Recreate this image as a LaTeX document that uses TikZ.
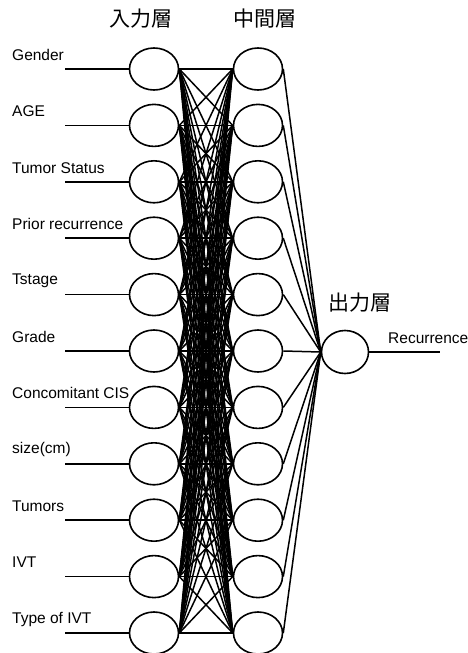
\documentclass[tikz,border=0pt]{standalone}
\usepackage{fontspec}
\setmainfont{Liberation Sans}
\newfontfamily\jpfont{Noto Sans CJK JP}
\usetikzlibrary{shapes.geometric}
\tikzset{
  unit/.style = {ellipse, draw=black, line width=1.6pt, minimum width=49pt, minimum height=42pt, inner sep=0pt},
  feature/.style = {anchor=west, inner sep=0pt, font=\fontsize{15.5}{18}\selectfont},
  layer/.style = {inner sep=0pt, font=\jpfont\fontsize{21}{24}\selectfont},
  link/.style = {line width=1.5pt}
}

\begin{document}
\begin{tikzpicture}[x=1pt, y=-1pt]
\useasboundingbox (0,0) rectangle (468,653);

% layer titles
\node[layer] (in-title) at (141,19) {入力層};
\node[layer] (hid-title) at (265,19) {中間層};
\node[layer] (out-title) at (360,303) {出力層};

% input and hidden layers
\foreach \lab [count=\i] in {Gender, AGE, Tumor Status, Prior recurrence, Tstage, Grade, Concomitant CIS, size(cm), Tumors, IVT, Type of IVT} {
  \node[unit] (in-\i) at (154,{69+56.4*(\i-1)}) {};
  \node[unit] (hid-\i) at (258,{69+56.4*(\i-1)}) {};
  \node[feature] (lab-\i) at (12,{55+56.4*(\i-1)}) {\lab};
  \coordinate (src-\i) at (65,{69+56.4*(\i-1)});
  \draw[link] (src-\i) -- (in-\i.west);
}

% output layer
\node[unit, minimum width=47pt, minimum height=43pt] (out) at (345,352) {};
\coordinate (res) at (440,352);
\node[feature] (res-lab) at (388,338) {Recurrence};
\draw[link] (out.east) -- (res);

% connections
\foreach \i in {1,...,11} {
  \foreach \j in {1,...,11} {
    \draw[link] (in-\i.east) -- (hid-\j.west);
  }
  \draw[link] (hid-\i.east) -- (out.west);
}
\end{tikzpicture}
\end{document}
